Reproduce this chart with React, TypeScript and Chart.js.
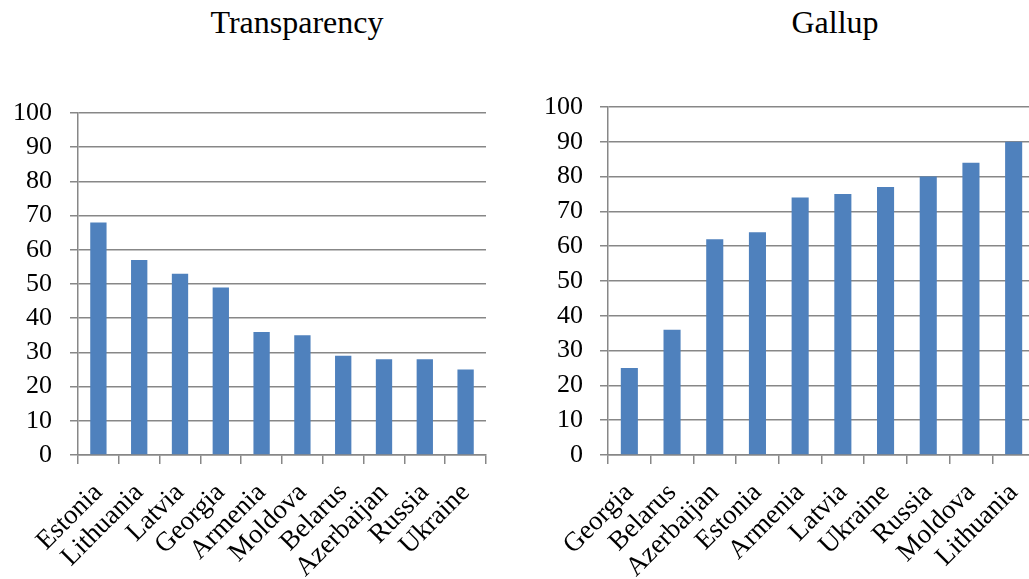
import React, { useEffect, useRef } from "react";
import { Chart, registerables } from "chart.js";

Chart.register(...registerables);

const transparencyTitle = "Transparency";
const transparencyCountries = ["Estonia", "Lithuania", "Latvia", "Georgia", "Armenia", "Moldova", "Belarus", "Azerbaijan", "Russia", "Ukraine"];
const transparencyValues = [68, 57, 53, 49, 36, 35, 29, 28, 28, 25];

const gallupTitle = "Gallup";
const gallupCountries = ["Georgia", "Belarus", "Azerbaijan", "Estonia", "Armenia", "Latvia", "Ukraine", "Russia", "Moldova", "Lithuania"];
const gallupValues = [25, 36, 62, 64, 74, 75, 77, 80, 84, 90];

const yMin = 0;
const yMax = 100;
const yStep = 10;

const GRID = "#878787";
const BAR = "#4f81bd";
const FONT = "'Liberation Serif', 'Times New Roman', serif";

type PanelProps = {
  labels: string[];
  values: number[];
  title: string;
  left: number;
  width: number;
  height: number;
  axisX: number;
  plotTop: number;
  plotBottom: number;
  rightPad: number;
  titleCenter: number;
  yTickPad: number;
};

function BarPanel(p: PanelProps) {
  const ref = useRef<HTMLCanvasElement | null>(null);
  useEffect(() => {
    if (!ref.current) return;
    const chart = new Chart(ref.current, {
      type: "bar",
      data: {
        labels: p.labels,
        datasets: [
          {
            data: p.values,
            backgroundColor: BAR,
            borderWidth: 0,
            categoryPercentage: 1,
            barPercentage: 0.4,
          },
        ],
      },
      options: {
        animation: false,
        responsive: false,
        maintainAspectRatio: false,
        devicePixelRatio: 1,
        layout: { padding: { top: p.plotTop, right: p.rightPad, left: 0, bottom: 0 } },
        plugins: { legend: { display: false }, tooltip: { enabled: false }, title: { display: false } },
        scales: {
          x: {
            grid: { display: true, drawOnChartArea: false, drawTicks: true, tickLength: 9, color: GRID, lineWidth: 1.5, offset: true },
            border: { display: true, color: GRID, width: 1.5 },
            ticks: {
              maxRotation: 45,
              minRotation: 45,
              autoSkip: false,
              color: "#000",
              padding: 13,
              font: { family: FONT, size: 27 },
            },
            afterFit: (s: any) => {
              s.height = p.height - p.plotBottom;
              s.paddingLeft = 0;
              s.paddingRight = 0;
            },
          },
          y: {
            min: yMin,
            max: yMax,
            grid: { color: GRID, lineWidth: 1.5, tickLength: 8, drawTicks: true },
            border: { display: true, color: GRID, width: 1.5 },
            ticks: {
              stepSize: yStep,
              color: "#000",
              padding: p.yTickPad,
              font: { family: FONT, size: 26 },
            },
            afterFit: (s: any) => {
              s.width = p.axisX;
              s.paddingTop = 0;
              s.paddingBottom = 0;
            },
          },
        },
      },
    });
    return () => chart.destroy();
  }, []);
  return (
    <>
      <div
        style={{
          position: "absolute",
          left: p.titleCenter - 200,
          width: 400,
          top: 6,
          textAlign: "center",
          fontFamily: FONT,
          fontSize: 32,
          lineHeight: "32px",
          color: "#000",
        }}
      >
        {p.title}
      </div>
      <canvas
        ref={ref}
        width={p.width}
        height={p.height}
        style={{ position: "absolute", left: p.left, top: 0, width: p.width, height: p.height }}
      />
    </>
  );
}

export default function App() {
  return (
    <div
      style={{
        position: "fixed",
        left: 0,
        top: 0,
        width: 1029,
        height: 579,
        overflow: "hidden",
        background: "#fff",
      }}
    >
      <BarPanel
        labels={transparencyCountries}
        values={transparencyValues}
        title={transparencyTitle}
        left={0}
        width={500}
        height={579}
        axisX={78}
        plotTop={113}
        plotBottom={455}
        rightPad={14}
        titleCenter={297}
        yTickPad={18}
      />
      <BarPanel
        labels={gallupCountries}
        values={gallupValues}
        title={gallupTitle}
        left={520}
        width={520}
        height={579}
        axisX={88}
        plotTop={107}
        plotBottom={455}
        rightPad={5}
        titleCenter={835}
        yTickPad={17}
      />
    </div>
  );
}
